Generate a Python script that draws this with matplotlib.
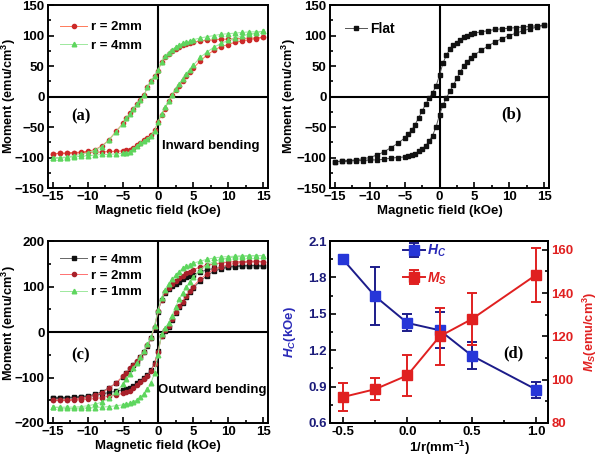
import matplotlib
matplotlib.use("Agg")
import matplotlib.pyplot as plt
from matplotlib.ticker import MultipleLocator, FormatStrFormatter
from matplotlib import font_manager

# ---------------- data ----------------
H_down = [15, 14, 13, 12, 11, 10, 9, 8, 7, 6, 5, 4.5, 4, 3.5, 3, 2.5, 2, 1.5, 1, 0.5, 0,
          -0.5, -1, -1.5, -2, -2.5, -3, -3.5, -4, -4.5, -5, -6, -7, -8, -9, -10, -11, -12, -13, -14, -15]
H_up = H_down[::-1]

# (a) inward bending
a_r2_down = [97, 96, 96, 95, 95, 94, 94, 93, 92, 91, 89, 88, 86, 84, 81, 78, 74, 70, 64, 56, 42,
             33, 25, 16, 2, -6, -13, -20, -27, -35, -44, -57, -71, -81, -87, -90, -91, -92, -93, -93, -94]
a_r2_up = [-94, -93, -93, -92, -92, -91, -91, -91, -90, -90, -89, -88, -87, -84, -80, -76, -72, -68, -63, -55, -42,
           -30, -20, -8, 2, 10, 17, 25, 33, 40, 46, 58, 68, 76, 82, 85, 89, 91, 93, 95, 97]
a_r4_down = [107, 106, 106, 105, 104, 103, 102, 100, 98, 96, 93, 91, 89, 87, 84, 81, 77, 72, 66, 57, 43,
             34, 25, 15, 2, -6, -13, -21, -28, -36, -45, -58, -72, -82, -88, -92, -95, -97, -99, -100, -101]
a_r4_up = [-101, -101, -100, -99, -98, -97, -96, -95, -95, -94, -93, -92, -91, -86, -81, -77, -73, -69, -64, -56, -42,
           -28, -18, -7, 3, 12, 20, 28, 37, 44, 51, 64, 73, 81, 87, 92, 96, 99, 102, 104, 107]

# (b) flat
b_flat_down = [117, 116, 115, 114, 113, 112, 111, 110, 108, 106, 104, 102, 100, 97, 93, 88, 84, 78, 68, 55, 35,
               17, 6, -3, -13, -24, -35, -46, -55, -62, -68, -77, -84, -91, -96, -100, -102, -104, -105, -106, -107]
b_flat_up = [-107, -106, -106, -105, -105, -104, -104, -103, -101, -100, -99, -98, -96, -94, -90, -86, -81, -73, -64, -50, -30,
             -14, -2, 9, 19, 30, 41, 50, 57, 63, 68, 76, 83, 90, 95, 100, 104, 108, 111, 114, 117]

# (c) outward bending
c_r4_down = [145, 146, 146, 146, 145, 144, 142, 140, 137, 132, 126, 123, 120, 116, 111, 106, 101, 95, 85, 70, 45,
             10, -14, -30, -44, -55, -65, -73, -81, -90, -98, -112, -123, -131, -137, -140, -142, -143, -144, -145, -145]
c_r4_up = [-145, -145, -145, -144, -143, -142, -139, -136, -133, -130, -127, -125, -122, -118, -112, -107, -101, -94, -84, -68, -42,
           -8, 3, 12, 27, 42, 55, 64, 76, 87, 96, 112, 124, 134, 139, 142, 144, 145, 146, 146, 145]
c_r2_down = [155, 156, 156, 155, 155, 154, 152, 150, 147, 143, 137, 133, 129, 124, 118, 112, 105, 97, 87, 71, 46,
             11, -12, -29, -43, -54, -64, -72, -80, -89, -97, -112, -124, -133, -139, -143, -146, -148, -149, -150, -150]
c_r2_up = [-150, -150, -150, -150, -149, -148, -146, -144, -141, -138, -135, -132, -129, -124, -117, -110, -103, -96, -86, -70, -44,
           -9, 4, 14, 28, 44, 57, 67, 79, 90, 100, 116, 128, 138, 144, 148, 151, 153, 154, 155, 155]
c_r1_down = [168, 168, 168, 168, 167, 166, 165, 163, 160, 156, 151, 148, 145, 140, 133, 125, 116, 106, 93, 75, 48,
             14, -10, -27, -42, -55, -67, -79, -92, -104, -115, -132, -145, -154, -159, -162, -164, -165, -165, -165, -165]
c_r1_up = [-165, -167, -168, -168, -167, -167, -166, -165, -164, -162, -160, -158, -156, -153, -149, -143, -136, -126, -112, -90, -50,
           -4, 8, 20, 36, 55, 72, 85, 98, 110, 120, 137, 148, 155, 160, 163, 165, 166, 167, 168, 168]

# (d) coercivity and saturation magnetisation
inv_r = [-0.5, -0.25, 0.0, 0.25, 0.5, 1.0]
Hc = [1.95, 1.645, 1.425, 1.365, 1.155, 0.875]
Hc_err = [0.015, 0.24, 0.07, 0.15, 0.11, 0.065]
Ms = [92.0, 95.6, 102.0, 120.0, 128.0, 148.5]
Ms_err = [6.5, 5.0, 9.6, 13.0, 12.0, 12.5]

# ---------------- style ----------------
names = {f.name for f in font_manager.fontManager.ttflist}
sans = "Liberation Sans" if "Liberation Sans" in names else "DejaVu Sans"
serif = "Liberation Serif" if "Liberation Serif" in names else "DejaVu Serif"
plt.rcParams.update({
    "font.family": [sans, "DejaVu Sans"],
    "font.weight": "bold",
    "font.size": 9,
    "axes.labelweight": "bold",
    "axes.linewidth": 1.4,
    "mathtext.fontset": "custom",
    "mathtext.rm": f"{sans}:bold",
    "mathtext.it": f"{sans}:italic:bold",
    "mathtext.bf": f"{sans}:bold",
})

TICK_FS = 9.5

fig = plt.figure(figsize=(6.0, 4.57), dpi=100)
ax_a = fig.add_axes([0.080, 0.5886, 0.3667, 0.4004])
ax_b = fig.add_axes([0.550, 0.5886, 0.3650, 0.4004])
ax_c = fig.add_axes([0.080, 0.0744, 0.3667, 0.3980])
ax_d = fig.add_axes([0.550, 0.0744, 0.3633, 0.3980])


def style_loop_axes(ax, ylim, ymaj, ymin, label_x, label_y=0.5):
    ax.set_xlim(-15.7, 15.7)
    ax.set_ylim(*ylim)
    ax.xaxis.set_major_locator(MultipleLocator(5))
    ax.xaxis.set_minor_locator(MultipleLocator(2.5))
    ax.yaxis.set_major_locator(MultipleLocator(ymaj))
    ax.yaxis.set_minor_locator(MultipleLocator(ymin))
    ax.tick_params(which="both", direction="in", top=False, right=False, width=1.2)
    ax.tick_params(which="major", length=4, labelsize=TICK_FS, pad=2.5)
    ax.tick_params(which="minor", length=2)
    ax.axhline(0, color="black", lw=1.5, zorder=1)
    ax.axvline(0, color="black", lw=1.5, zorder=1)
    ax.set_xlabel("Magnetic field (kOe)", fontsize=9.5, labelpad=1)
    ax.set_ylabel("Moment (emu/cm$^3$)", fontsize=9.2)
    ax.yaxis.set_label_coords(label_x, label_y)


def loop(ax, down, up, label, marker, mcolor, lcolor, ms):
    ax.plot(H_down + H_up, down + up, color=lcolor, lw=0.7, marker=marker, ms=ms,
            mfc=mcolor, mec=mcolor, label=label, zorder=3)


# (a)
loop(ax_a, a_r2_down, a_r2_up, "r = 2mm", "o", "#cc2a2a", "#ff7a5a", 3.0)
loop(ax_a, a_r4_down, a_r4_up, "r = 4mm", "^", "#5ed65e", "#9de89d", 3.3)
style_loop_axes(ax_a, (-150, 150), 50, 25, -0.135)
ax_a.legend(loc="upper left", bbox_to_anchor=(0.02, 0.955), frameon=False, fontsize=9.5,
            handlelength=2.0, handletextpad=0.3, labelspacing=0.45, numpoints=1, borderaxespad=0.2)
ax_a.text(0.15, 0.39, "(a)", transform=ax_a.transAxes, ha="center", va="center",
          fontsize=12, fontweight="bold", family=serif)
ax_a.text(0.52, 0.23, "Inward bending", transform=ax_a.transAxes, ha="left", va="center",
          fontsize=9.5, fontweight="bold")

# (b)
loop(ax_b, b_flat_down, b_flat_up, "Flat", "s", "#111111", "#555555", 2.6)
style_loop_axes(ax_b, (-150, 150), 50, 25, -0.145)
ax_b.legend(loc="upper left", bbox_to_anchor=(0.03, 0.955), frameon=False, fontsize=10,
            handlelength=1.6, handletextpad=0.2, numpoints=1, borderaxespad=0.2)
ax_b.text(0.83, 0.40, "(b)", transform=ax_b.transAxes, ha="center", va="center",
          fontsize=12, fontweight="bold", family=serif)

# (c)
loop(ax_c, c_r4_down, c_r4_up, "r = 4mm", "s", "#111111", "#666666", 2.6)
loop(ax_c, c_r2_down, c_r2_up, "r = 2mm", "o", "#a8202a", "#ff7070", 3.0)
loop(ax_c, c_r1_down, c_r1_up, "r = 1mm", "^", "#5ed65e", "#9de89d", 3.3)
style_loop_axes(ax_c, (-200, 200), 100, 50, -0.135, 0.55)
ax_c.legend(loc="upper left", bbox_to_anchor=(0.02, 0.975), frameon=False, fontsize=9.5,
            handlelength=2.0, handletextpad=0.3, labelspacing=0.3, numpoints=1, borderaxespad=0.2)
ax_c.text(0.15, 0.37, "(c)", transform=ax_c.transAxes, ha="center", va="center",
          fontsize=12, fontweight="bold", family=serif)
ax_c.text(0.50, 0.18, "Outward bending", transform=ax_c.transAxes, ha="left", va="center",
          fontsize=9.5, fontweight="bold")

# (d)
blue_line = "#1c1c8a"
blue_mk = "#2636d8"
red = "#e02020"
ax_d.errorbar(inv_r, Hc, yerr=Hc_err, color=blue_line, lw=1.4, marker="s", ms=7,
              mfc=blue_mk, mec=blue_mk, ecolor=blue_line, elinewidth=1.4, capsize=3.5,
              capthick=1.4, label="$H_C$", zorder=3)
ax_r = ax_d.twinx()
ax_r.errorbar(inv_r, Ms, yerr=Ms_err, color=red, lw=1.4, marker="s", ms=7,
              mfc=red, mec=red, ecolor=red, elinewidth=1.4, capsize=3.5, capthick=1.4,
              label="$M_S$", zorder=3)

ax_d.set_xlim(-0.6, 1.09)
ax_d.set_ylim(0.6, 2.1)
ax_r.set_ylim(80, 164)
ax_d.xaxis.set_major_locator(MultipleLocator(0.5))
ax_d.xaxis.set_minor_locator(MultipleLocator(0.25))
ax_d.yaxis.set_major_locator(MultipleLocator(0.3))
ax_d.yaxis.set_minor_locator(MultipleLocator(0.15))
ax_r.yaxis.set_major_locator(MultipleLocator(20))
ax_r.yaxis.set_minor_locator(MultipleLocator(10))
ax_d.tick_params(which="both", direction="in", top=False, right=False, width=1.2)
ax_d.tick_params(which="major", length=4, labelsize=TICK_FS, pad=2.5)
ax_d.tick_params(which="minor", length=2)
ax_d.tick_params(axis="y", labelcolor="#1c1c7a")
ax_r.tick_params(which="both", direction="in", width=1.2)
ax_r.tick_params(which="major", length=4, labelsize=TICK_FS, labelcolor=red, pad=2.5)
ax_r.tick_params(which="minor", length=2)
ax_d.xaxis.set_major_formatter(FormatStrFormatter("%.1f"))
ax_d.yaxis.set_major_formatter(FormatStrFormatter("%.1f"))
ax_d.set_xlabel("1/r(mm$^{-1}$)", fontsize=9.5, labelpad=0)
ax_d.set_ylabel("$H_C$(kOe)", fontsize=9.5, color="#2a2ab8")
ax_d.yaxis.set_label_coords(-0.145, 0.5)
ax_r.set_ylabel("$M_S$(emu/cm$^3$)", fontsize=9.2, color=red, rotation=90)
ax_r.yaxis.set_label_coords(1.15, 0.5)
for sp in ax_r.spines.values():
    sp.set_linewidth(1.4)

h1, l1 = ax_d.get_legend_handles_labels()
h2, l2 = ax_r.get_legend_handles_labels()
leg = ax_r.legend(h1 + h2, l1 + l2, loc="upper left", bbox_to_anchor=(0.29, 1.045), frameon=False,
                  fontsize=10, handlelength=1.6, handletextpad=0.1, labelspacing=0.8,
                  numpoints=1, borderaxespad=0.3)
for txt, c in zip(leg.get_texts(), ["#2a2ab8", red]):
    txt.set_color(c)
ax_d.text(0.84, 0.38, "(d)", transform=ax_d.transAxes, ha="center", va="center",
          fontsize=12, fontweight="bold", family=serif)

fig.savefig("out.png", dpi=100)
